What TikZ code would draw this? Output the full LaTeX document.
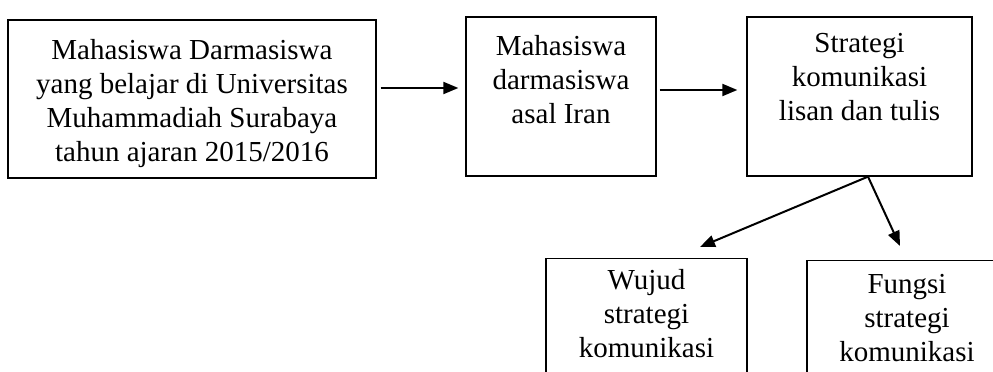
\documentclass[tikz,border=0pt]{standalone}
\usepackage{fontspec}
\setmainfont{Liberation Serif}
\usetikzlibrary{arrows.meta}
\newcommand{\isikotak}[4]{\parbox[c][#1][t]{#2}{\centering\vspace*{#3}#4\par}}

\begin{document}
\begin{tikzpicture}[x=1pt,y=1pt,
		kotak/.style={draw,line width=1.3pt,inner sep=0pt,font=\fontsize{29}{34}\selectfont},
		panah/.style={line width=2pt,-{Triangle[length=15pt,width=12pt]}}
		]
		\useasboundingbox (0,0) rectangle (993,372);
		\clip (0,0) rectangle (993,372);
		
		\node[kotak](K0) at (192,273){\isikotak{158pt}{368pt}{19pt}{Mahasiswa Darmasiswa\\yang belajar di Universitas\\Muhammadiah Surabaya\\tahun ajaran 2015/2016}};
		\node[kotak](K1) at (561,275.5){\isikotak{159pt}{190pt}{18pt}{Mahasiswa\\darmasiswa\\asal Iran}};
		\node[kotak](K2) at (859.5,275.5){\isikotak{159pt}{225pt}{16pt}{Strategi\\komunikasi\\lisan dan tulis}};
		\node[kotak, anchor=north](K3) at (646.5,114){\isikotak{159pt}{201pt}{11pt}{Wujud\\strategi\\komunikasi}};
		\node[kotak, anchor=north](K4) at (907,112){\isikotak{159pt}{200pt}{14pt}{Fungsi\\strategi\\komunikasi}};
		
		\draw[panah, shorten <=4pt, shorten >=7pt] ([yshift=11pt]K0.east) -- ([yshift=11pt]K0.east -| K1.west);
		\draw[panah, shorten <=3pt, shorten >=9pt] ([yshift=6.5pt]K1.east) -- ([yshift=6.5pt]K1.east -| K2.west);
		\draw[panah] ([xshift=8.5pt]K2.south) -- ([xshift=53.5pt,yshift=11pt]K3.north);
		\draw[panah] ([xshift=8.5pt]K2.south) -- ([xshift=-7pt,yshift=14pt]K4.north);
	\end{tikzpicture}
\end{document}
